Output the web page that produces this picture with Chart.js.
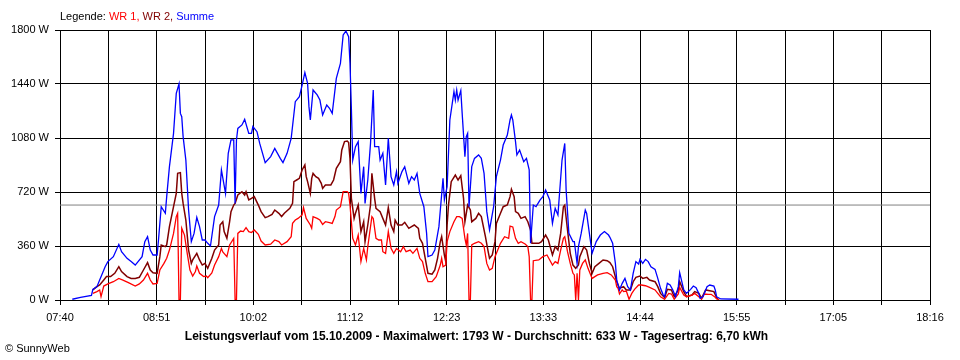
<!DOCTYPE html>
<html>
<head>
<meta charset="utf-8">
<script src="https://cdn.jsdelivr.net/npm/chart.js@4.4.1/dist/chart.umd.min.js"></script>
<style>
  html, body { margin: 0; padding: 0; background: #fff; }
  #wrap { position: relative; width: 960px; height: 360px; overflow: hidden; font-family: "Liberation Sans", Arial, sans-serif; }
  #c { position: absolute; left: 0; top: 0; }
  #legend { position: absolute; left: 60px; top: 10px; font-size: 11px; line-height: 13px; white-space: nowrap; }
  #title { position: absolute; left: 0; width: 953px; top: 329px; text-align: center; font-size: 12px; font-weight: bold; line-height: 14px; white-space: nowrap; }
  #copy { position: absolute; left: 5px; top: 342px; font-size: 11px; line-height: 13px; white-space: nowrap; }
</style>
</head>
<body>
<div id="wrap">
  <canvas id="c" width="960" height="360"></canvas>
  <div id="legend">Legende: <span style="color:#ff0000">WR 1,</span> <span style="color:#800000">WR 2,</span> <span style="color:#0000ff">Summe</span></div>
  <div id="title">Leistungsverlauf vom 15.10.2009 - Maximalwert: 1793 W - Durchschnitt: 633 W - Tagesertrag: 6,70 kWh</div>
  <div id="copy">© SunnyWeb</div>
</div>
<script>
// ---- data ----
const xTickLabels = ['07:40','08:51','10:02','11:12','12:23','13:33','14:44','15:55','17:05','18:16'];
const yTickValues = [0, 360, 720, 1080, 1440, 1800];
const averageW = 633;

const wr1Times = ['08:04','08:07','08:09','08:10','08:12','08:15','08:19','08:23','08:26','08:30','08:35','08:38','08:41','08:44','08:46','08:48','08:51','08:53','08:56','08:58','09:00','09:03','09:05','09:06','09:07','09:08','09:09','09:11','09:13','09:15','09:17','09:19','09:20','09:22','09:25','09:27','09:28','09:31','09:33','09:36','09:38','09:39','09:42','09:44','09:47','09:48','09:49','09:50','09:52','09:54','09:56','09:58','10:00','10:02','10:05','10:07','10:10','10:14','10:17','10:20','10:22','10:26','10:29','10:30','10:32','10:34','10:37','10:38','10:40','10:43','10:44','10:45','10:48','10:50','10:52','10:54','10:57','10:59','11:01','11:02','11:05','11:07','11:10','11:11','11:12','11:13','11:14','11:16','11:18','11:20','11:22','11:24','11:25','11:28','11:29','11:31','11:33','11:35','11:36','11:38','11:40','11:42','11:44','11:46','11:49','11:51','11:53','11:56','11:58','12:01','12:03','12:05','12:07','12:09','12:12','12:15','12:18','12:19','12:20','12:22','12:23','12:25','12:28','12:30','12:32','12:34','12:36','12:37','12:38','12:39','12:40','12:41','12:43','12:46','12:48','12:50','12:52','12:54','12:56','12:58','13:02','13:05','13:08','13:09','13:11','13:13','13:15','13:17','13:20','13:22','13:23','13:24','13:25','13:26','13:30','13:33','13:36','13:38','13:40','13:42','13:44','13:46','13:48','13:49','13:51','13:53','13:55','13:56','13:57','13:58','13:59','14:00','14:02','14:04','14:06','14:09','14:11','14:13','14:17','14:20','14:23','14:24','14:26','14:27','14:28','14:29','14:31','14:32','14:34','14:36','14:38','14:40','14:43','14:45','14:48','14:51','14:55','14:57','14:59','15:02','15:05','15:07','15:09','15:12','15:13','15:16','15:18','15:22','15:24','15:27','15:29','15:31','15:34','15:36','15:39','15:40','15:42'];
const wr1Values = [44,56,67,22,93,107,122,144,133,116,93,107,133,178,133,107,111,200,244,278,333,444,556,578,0,0,478,433,311,200,160,190,227,178,156,160,149,180,233,289,344,320,289,367,411,0,0,444,460,456,482,456,450,467,438,393,367,372,400,389,367,389,422,511,533,544,567,616,544,500,478,556,544,533,504,522,516,511,556,600,622,722,722,711,633,522,411,367,433,256,344,267,356,556,544,411,400,400,322,311,456,344,311,344,322,356,322,333,311,344,278,256,178,122,122,156,233,278,222,233,389,456,522,556,556,544,411,367,444,0,0,367,378,389,378,356,244,200,211,289,378,422,411,493,487,411,378,389,373,356,289,0,0,262,267,289,300,267,233,256,244,333,411,422,322,244,178,167,0,178,0,200,244,267,211,144,156,167,178,182,167,156,133,89,78,40,67,56,60,5,44,71,100,100,95,84,67,44,22,5,44,40,5,40,84,33,22,33,44,22,5,40,38,38,18,7,2];

const wr2Times = ['08:04','08:07','08:09','08:12','08:14','08:17','08:20','08:23','08:25','08:29','08:32','08:35','08:38','08:41','08:44','08:46','08:48','08:51','08:53','08:54','08:57','08:58','09:00','09:03','09:05','09:06','09:08','09:09','09:10','09:12','09:14','09:16','09:17','09:20','09:22','09:24','09:26','09:28','09:31','09:33','09:36','09:37','09:39','09:40','09:42','09:44','09:45','09:47','09:48','09:50','09:53','09:55','09:56','09:58','10:00','10:02','10:05','10:07','10:10','10:12','10:15','10:17','10:20','10:22','10:24','10:28','10:30','10:31','10:33','10:35','10:37','10:39','10:40','10:41','10:43','10:44','10:45','10:47','10:49','10:51','10:52','10:54','10:56','10:58','11:00','11:02','11:05','11:06','11:08','11:10','11:11','11:12','11:13','11:15','11:16','11:18','11:20','11:22','11:23','11:25','11:27','11:28','11:30','11:31','11:34','11:36','11:38','11:40','11:42','11:44','11:45','11:47','11:50','11:52','11:55','11:57','11:59','12:02','12:03','12:05','12:07','12:09','12:12','12:14','12:16','12:18','12:19','12:21','12:22','12:23','12:24','12:26','12:29','12:31','12:33','12:35','12:36','12:38','12:40','12:41','12:44','12:46','12:48','12:51','12:53','12:54','12:56','12:58','12:59','13:02','13:04','13:07','13:09','13:10','13:12','13:13','13:15','13:17','13:20','13:22','13:24','13:25','13:27','13:30','13:32','13:35','13:37','13:39','13:40','13:42','13:44','13:46','13:48','13:49','13:51','13:53','13:55','13:57','13:59','14:00','14:03','14:05','14:07','14:09','14:11','14:14','14:17','14:20','14:22','14:24','14:27','14:29','14:32','14:34','14:37','14:39','14:41','14:44','14:46','14:49','14:51','14:55','14:57','14:59','15:02','15:04','15:07','15:09','15:12','15:13','15:16','15:18','15:22','15:24','15:27','15:29','15:32','15:35','15:38','15:40','15:41'];
const wr2Values = [67,89,100,133,156,156,178,222,189,156,144,144,151,200,249,200,182,178,289,367,356,367,489,622,711,844,849,711,644,533,333,244,267,311,267,233,244,211,278,333,367,500,522,456,411,522,589,633,644,700,722,700,722,667,678,689,633,589,549,556,571,600,578,556,578,611,644,789,800,811,867,900,822,789,711,811,844,822,811,778,744,767,767,767,800,878,922,1000,1056,1060,1050,944,678,544,578,633,456,522,389,500,633,844,678,611,589,544,500,616,500,456,533,500,500,518,478,489,500,478,411,378,278,178,172,200,278,389,422,300,256,500,633,789,833,800,829,678,522,633,600,522,544,578,556,422,322,278,300,389,511,578,622,633,689,738,689,589,578,544,556,522,467,378,378,378,389,433,400,333,300,356,333,444,622,633,467,311,233,211,233,289,356,333,244,178,222,244,267,262,250,222,122,78,89,67,67,122,151,160,144,151,133,122,89,44,16,71,67,22,67,122,56,22,33,56,44,11,67,62,56,16,7];

const sumTimes = ['07:49','07:55','08:03','08:04','08:07','08:09','08:13','08:15','08:19','08:23','08:25','08:29','08:32','08:35','08:40','08:42','08:44','08:46','08:48','08:51','08:52','08:54','08:57','08:58','09:00','09:03','09:05','09:07','09:08','09:09','09:10','09:12','09:14','09:16','09:18','09:20','09:22','09:24','09:26','09:28','09:30','09:33','09:36','09:38','09:41','09:43','09:45','09:47','09:48','09:49','09:50','09:53','09:55','09:58','10:00','10:01','10:04','10:06','10:10','10:14','10:17','10:21','10:23','10:26','10:29','10:32','10:35','10:37','10:39','10:41','10:42','10:43','10:45','10:48','10:50','10:52','10:55','10:57','10:59','11:02','11:05','11:07','11:09','11:11','11:12','11:13','11:14','11:16','11:18','11:20','11:22','11:23','11:25','11:27','11:29','11:30','11:33','11:34','11:36','11:38','11:40','11:42','11:44','11:46','11:47','11:50','11:52','11:55','11:57','11:59','12:01','12:03','12:06','12:08','12:09','12:12','12:14','12:17','12:20','12:21','12:23','12:25','12:28','12:29','12:30','12:31','12:33','12:34','12:36','12:37','12:38','12:39','12:41','12:43','12:46','12:48','12:50','12:52','12:54','12:57','12:59','13:02','13:04','13:07','13:09','13:10','13:11','13:13','13:14','13:16','13:19','13:21','13:23','13:24','13:26','13:28','13:31','13:33','13:35','13:38','13:40','13:42','13:44','13:47','13:49','13:50','13:52','13:55','13:56','13:58','13:59','14:01','14:04','14:05','14:07','14:09','14:12','14:15','14:18','14:21','14:22','14:24','14:26','14:27','14:29','14:31','14:33','14:35','14:37','14:39','14:41','14:43','14:44','14:46','14:48','14:50','14:52','14:55','14:57','14:59','15:01','15:02','15:04','15:06','15:08','15:10','15:12','15:13','15:14','15:16','15:18','15:21','15:23','15:25','15:27','15:28','15:30','15:33','15:35','15:38','15:39','15:40','15:43','15:56'];
const sumValues = [5,18,31,71,89,133,222,256,289,371,322,278,256,233,289,389,422,333,300,300,400,622,578,689,889,1111,1378,1440,1244,1222,1089,933,600,389,444,551,489,400,400,378,360,556,633,867,711,978,1067,1067,644,1067,1144,1167,1204,1111,1111,1156,1122,1044,916,956,1011,944,916,978,1078,1322,1356,1433,1516,1444,1289,1200,1400,1367,1333,1233,1300,1278,1244,1478,1578,1767,1793,1756,1578,1278,933,1022,1056,711,889,644,800,1044,1400,1022,1022,933,978,767,1078,822,767,856,778,856,889,778,822,800,844,711,622,444,289,300,333,489,811,667,756,1200,1389,1333,1400,1333,1396,1244,956,1089,1111,622,889,944,967,944,844,589,467,622,822,933,1033,1100,1200,1233,1200,1056,967,1000,922,944,867,378,633,622,667,689,733,667,511,611,567,933,1044,733,444,389,389,244,356,444,600,578,444,311,389,433,456,433,418,378,244,133,67,111,144,89,67,178,256,240,271,244,271,256,222,204,144,78,33,22,111,100,67,22,89,182,144,67,44,71,93,82,44,11,22,89,100,93,67,22,7,5];

// ---- helpers ----
const toMin = s => { const p = s.split(':'); return (+p[0]) * 60 + (+p[1]); };
const pts = (times, vals) => times.map((t, i) => ({ x: toMin(t), y: vals[i] }));
const xMin = toMin(xTickLabels[0]);
const xMax = toMin(xTickLabels[xTickLabels.length - 1]);
const xDivisions = (xTickLabels.length - 1) * 2;

new Chart(document.getElementById('c'), {
  type: 'line',
  data: {
    datasets: [
      { label: 'Summe', data: pts(sumTimes, sumValues), borderColor: '#0000ff', borderWidth: 1.3, order: 1 },
      { label: 'WR 1', data: pts(wr1Times, wr1Values), borderColor: '#ff0000', borderWidth: 1.3, order: 2 },
      { label: 'WR 2', data: pts(wr2Times, wr2Values), borderColor: '#800000', borderWidth: 1.5, order: 3 },
      { label: 'avg', data: [{ x: xMin, y: averageW }, { x: xMax, y: averageW }], borderColor: '#808080', borderWidth: 1, order: 4 }
    ]
  },
  options: {
    responsive: false,
    animation: false,
    devicePixelRatio: 1,
    elements: { point: { radius: 0 }, line: { tension: 0, fill: false } },
    layout: { padding: { top: 30, right: 30, left: 0, bottom: 0 } },
    plugins: { legend: { display: false }, tooltip: { enabled: false }, title: { display: false } },
    scales: {
      x: {
        type: 'linear',
        min: xMin,
        max: xMax,
        afterFit: s => { s.height = 60; },
        afterBuildTicks: s => {
          const t = [];
          for (let i = 0; i <= xDivisions; i++) t.push({ value: xMin + (xMax - xMin) * i / xDivisions });
          s.ticks = t;
        },
        grid: { color: '#000', lineWidth: 1, tickLength: 5, drawTicks: true },
        border: { color: '#000', width: 1 },
        ticks: {
          autoSkip: false, maxRotation: 0, padding: 6, color: '#000',
          font: { family: 'Liberation Sans', size: 11 },
          callback: (v, i) => (i % 2 === 0 ? xTickLabels[i / 2] : '')
        }
      },
      y: {
        min: 0,
        max: 1800,
        afterFit: s => { s.width = 60; },
        afterBuildTicks: s => { s.ticks = yTickValues.map(v => ({ value: v })); },
        grid: { color: '#000', lineWidth: 1, tickLength: 5, drawTicks: true },
        border: { color: '#000', width: 1 },
        ticks: {
          padding: 6, color: '#000',
          font: { family: 'Liberation Sans', size: 11 },
          callback: v => v + ' W'
        }
      }
    }
  }
});
</script>
</body>
</html>
